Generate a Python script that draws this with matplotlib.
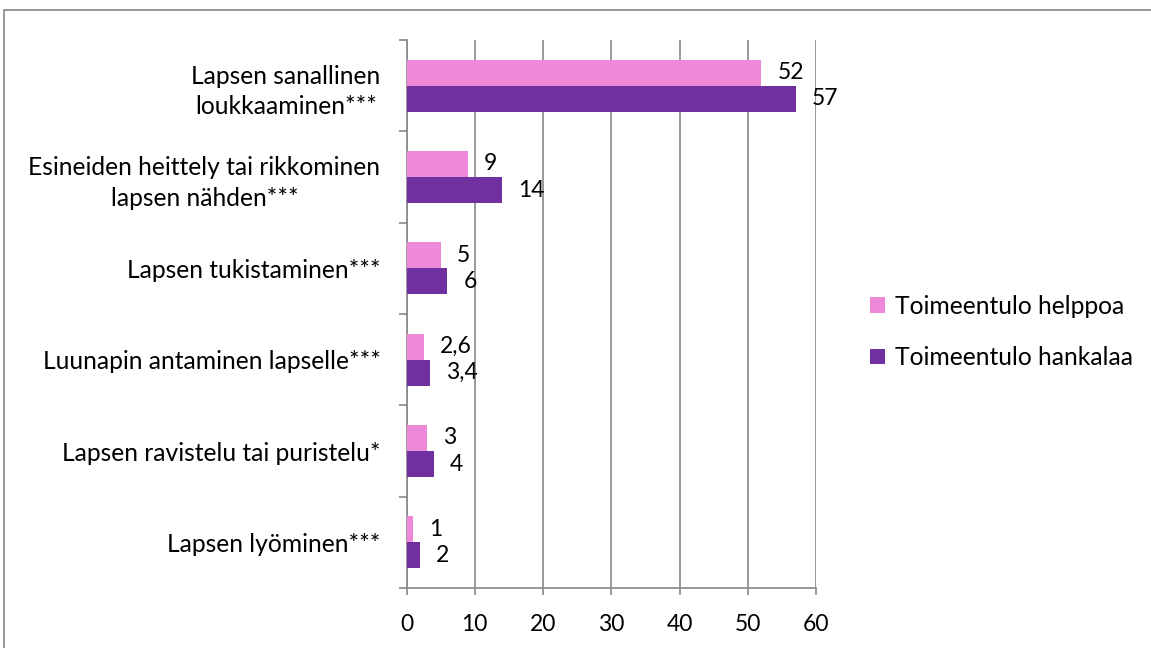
import matplotlib
matplotlib.use("Agg")
import matplotlib.pyplot as plt
from matplotlib.patches import Rectangle
import numpy as np

categories = [
    "Lapsen sanallinen\nloukkaaminen***",
    "Esineiden heittely tai rikkominen\nlapsen nähden***",
    "Lapsen tukistaminen***",
    "Luunapin antaminen lapselle***",
    "Lapsen ravistelu tai puristelu*",
    "Lapsen lyöminen***",
]
helppoa = [52, 9, 5, 2.6, 3, 1]
hankalaa = [57, 14, 6, 3.4, 4, 2]
helppoa_labels = ["52", "9", "5", "2,6", "3", "1"]
hankalaa_labels = ["57", "14", "6", "3,4", "4", "2"]
series_names = ["Toimeentulo helppoa", "Toimeentulo hankalaa"]
xticks = [0, 10, 20, 30, 40, 50, 60]

PINK = "#EE88D8"
PURPLE = "#7030A0"
GRID = "#888888"
FS = 17.7
FSN = 16.5
plt.rcParams['font.family'] = ['Lato', 'DejaVu Sans']

fig = plt.figure(figsize=(11.51, 6.48), dpi=100)
W, H = 1151, 648
ax = fig.add_axes([406.5 / W, (H - 588) / H, (816 - 406.5) / W, (588 - 40) / H])

# outer frame
fig.patches.append(Rectangle((4 / W, -0.1), 1.2, (H - 10) / H + 0.1,
                             transform=fig.transFigure, fill=False,
                             edgecolor="#888888", linewidth=1.2))

y = np.arange(len(categories))
h = 0.285
b1 = ax.barh(y - h / 2, helppoa, height=h, color=PINK, label=series_names[0], zorder=3)
b2 = ax.barh(y + h / 2, hankalaa, height=h, color=PURPLE, label=series_names[1], zorder=3)

off = 16 * 72 / 100  # points
for bars, labs in ((b1, helppoa_labels), (b2, hankalaa_labels)):
    for rect, lab in zip(bars, labs):
        ax.annotate(lab, (rect.get_width(), rect.get_y() + rect.get_height() / 2),
                    xytext=(off, 0), textcoords="offset points",
                    ha="left", va="center", fontsize=FSN, color="black")

ax.set_xlim(0, 60)
ax.set_ylim(len(categories) - 0.5, -0.5)
ax.set_xticks(xticks)
ax.set_xticklabels([str(t) for t in xticks], fontsize=FSN)
ax.xaxis.grid(True, color=GRID, linewidth=1.2, zorder=0)
ax.set_axisbelow(True)

ax.set_yticks(y)
ax.set_yticklabels(categories, fontsize=FS, ha="right", multialignment="center",
                   linespacing=1.4)
ax.set_yticks(np.arange(len(categories) + 1) - 0.5, minor=True)
ax.tick_params(axis="y", which="major", length=0, pad=26 * 0.72)
ax.tick_params(axis="y", which="minor", length=8 * 0.72, width=1.2, color=GRID, direction="out")
ax.tick_params(axis="x", length=7 * 0.72, width=1.2, color=GRID, direction="out", pad=14)

for s in ("top", "right"):
    ax.spines[s].set_visible(False)
for s in ("left", "bottom"):
    ax.spines[s].set_color(GRID)
    ax.spines[s].set_linewidth(1.2)

leg = fig.legend(handles=[b1, b2], labels=series_names, loc="center left",
                 bbox_to_anchor=(870 / W, (H - 332) / H), frameon=False,
                 fontsize=FS, handlelength=0.6, handleheight=0.6,
                 handletextpad=0.4, labelspacing=1.15, borderpad=0, borderaxespad=0)

fig.savefig("out.png", dpi=100, facecolor="white")
